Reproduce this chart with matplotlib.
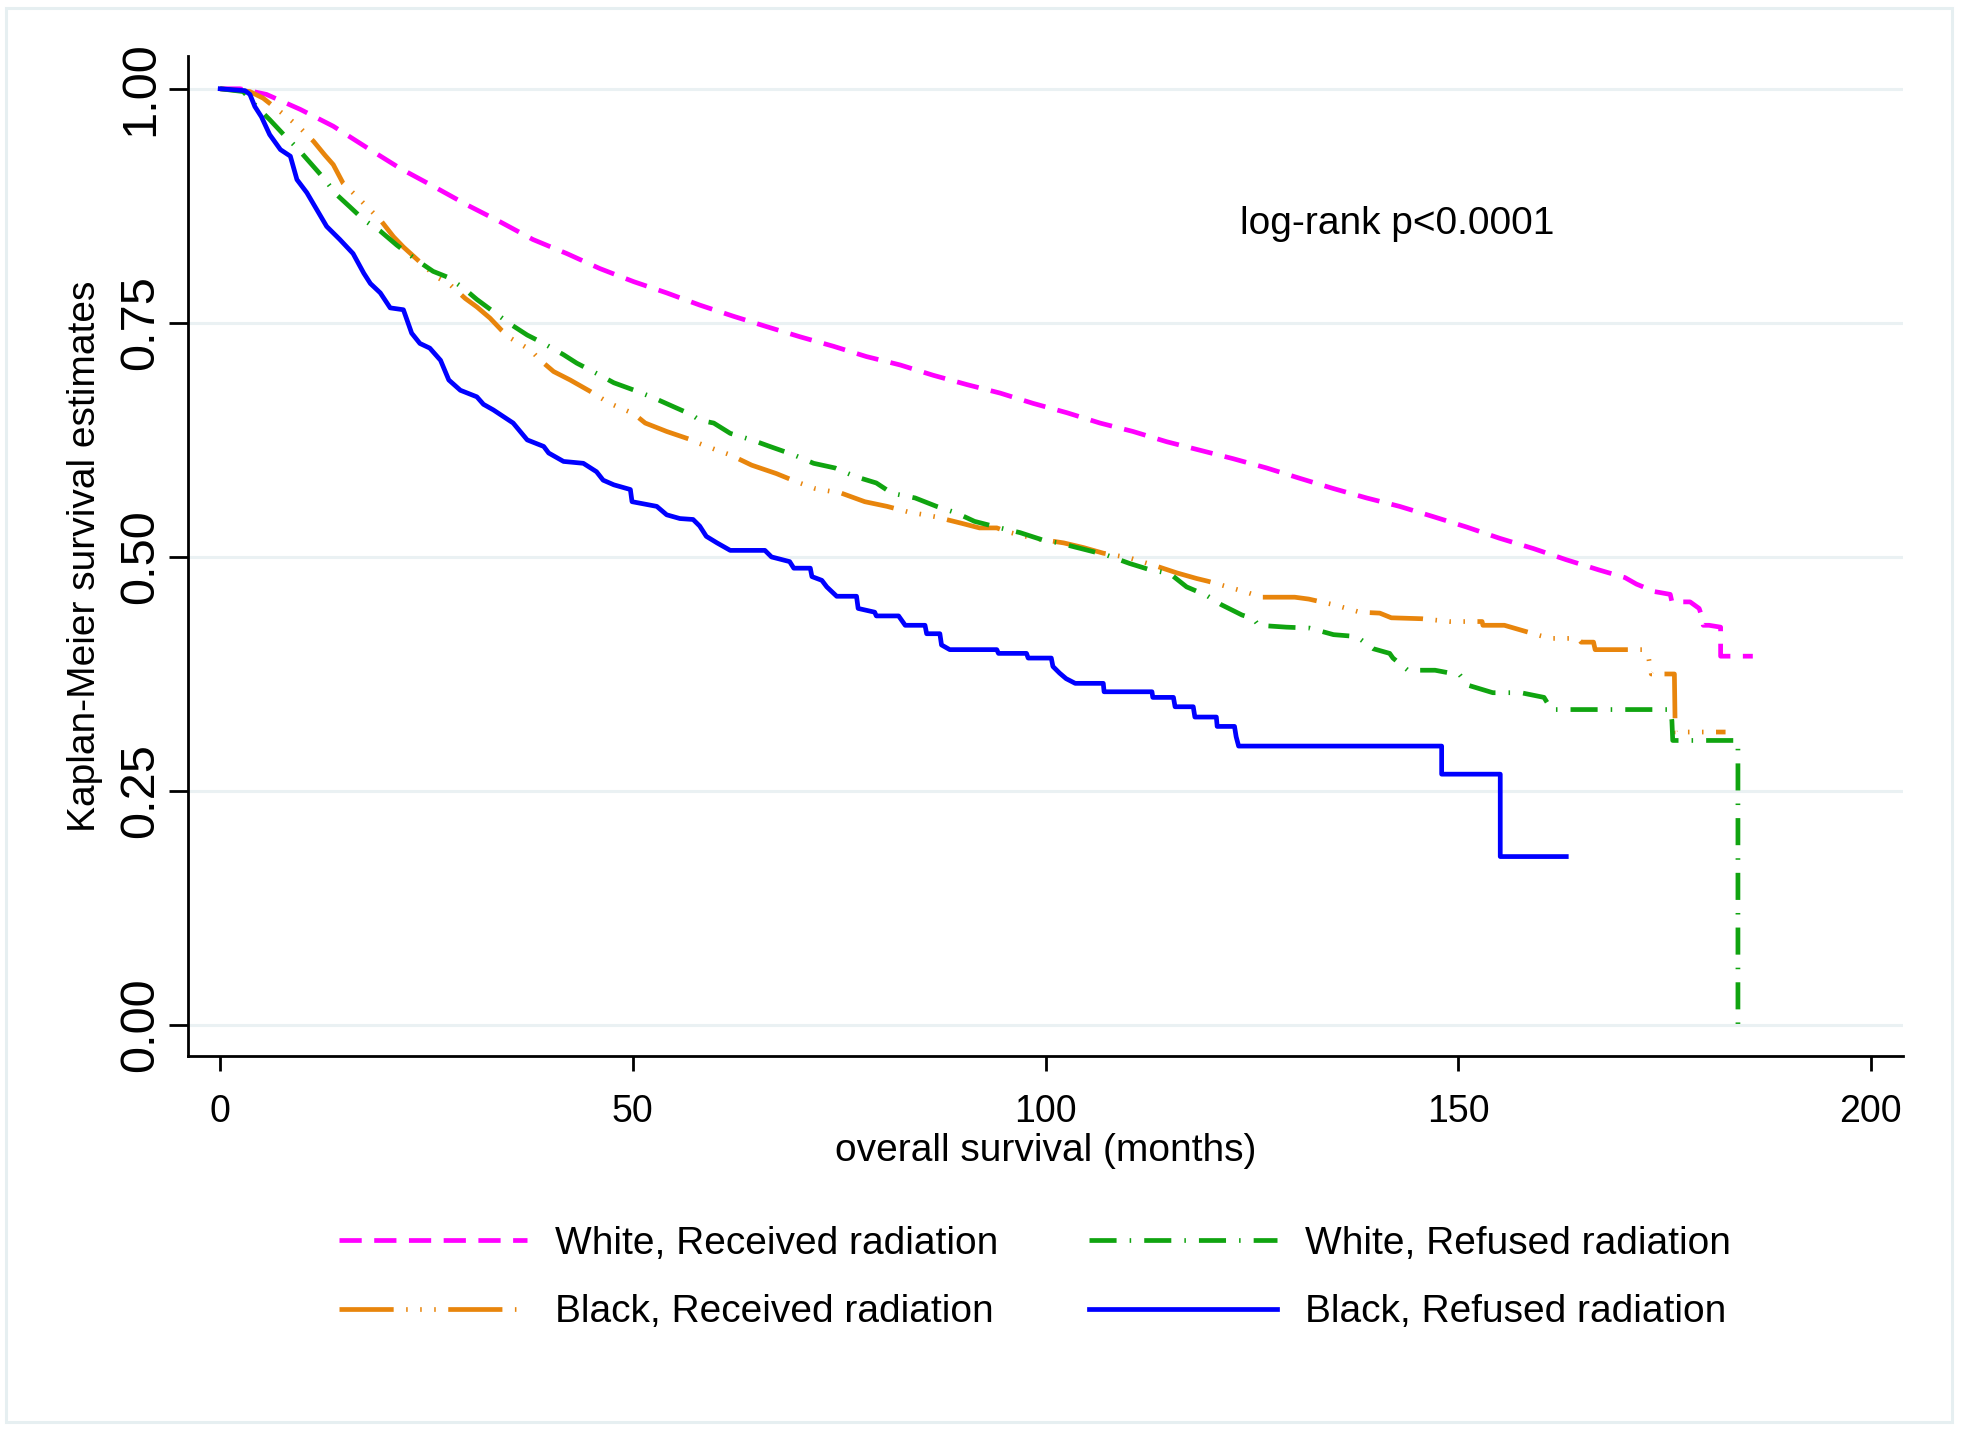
import matplotlib
matplotlib.use('Agg')
import matplotlib.pyplot as plt
from matplotlib.patches import Rectangle

plt.rcParams['font.family'] = ['Liberation Sans', 'DejaVu Sans']
plt.rcParams['lines.scale_dashes'] = False

# ---- data (months, survival) ----
labels = ['White, Received radiation', 'Black, Received radiation',
          'White, Refused radiation', 'Black, Refused radiation']

wr_t = [0, 2.4, 5.6, 9.7, 13.7, 17.8, 21.8, 25.8, 29.9, 33.9, 37.9, 42.0, 46.0, 50.1, 54.1,
        58.1, 62.2, 66.2, 70.3, 74.3, 78.3, 82.4, 86.4, 90.5, 94.5, 98.5, 102.6, 106.6, 110.6,
        114.7, 118.7, 122.7, 126.8, 130.8, 134.9, 138.9, 142.9, 147.0, 151.0, 155.0, 159.1,
        163.1, 167.1, 170.2, 171.6, 173.8, 175.7, 175.9, 178.1, 179.2, 179.5, 179.7, 180.4,
        181.8, 181.8, 185.7]
wr_s = [1.0, 1.0, 0.994, 0.978, 0.960, 0.937, 0.915, 0.896, 0.876, 0.858, 0.839, 0.824, 0.808,
        0.794, 0.782, 0.769, 0.757, 0.746, 0.735, 0.725, 0.714, 0.705, 0.694, 0.684, 0.675,
        0.664, 0.654, 0.643, 0.634, 0.623, 0.614, 0.605, 0.595, 0.584, 0.573, 0.563, 0.554,
        0.543, 0.532, 0.520, 0.509, 0.497, 0.486, 0.478, 0.471, 0.463, 0.460, 0.452, 0.452,
        0.445, 0.437, 0.427, 0.427, 0.425, 0.394, 0.394]

br_t = [0, 3.6, 5.2, 7.5, 8.5, 9.7, 11.3, 12.7, 13.7, 14.9, 16.2, 17.8, 19.4, 21.0, 22.2, 24.2,
        26.2, 27.7, 29.7, 31.1, 32.7, 34.1, 35.3, 37.6, 38.8, 40.4, 42.4, 44.8, 47.2, 50.1, 51.5,
        54.1, 57.1, 58.1, 60.2, 61.8, 64.4, 67.4, 69.9, 72.1, 75.3, 78.1, 80.8, 83.4, 86.6, 89.8,
        92.0, 94.1, 95.3, 98.5, 102.2, 104.6, 107.0, 110.2, 113.5, 115.9, 118.3, 119.7, 121.3,
        124.1, 126.2, 130.2, 131.9, 134.9, 136.5, 138.1, 140.5, 141.9, 145.6, 149.0, 152.9,
        153.0, 155.6, 159.9, 161.3, 164.5, 164.9, 166.4, 166.6, 172.4, 173.1, 173.4, 176.2,
        176.3, 182.4]
br_s = [1.0, 0.997, 0.990, 0.974, 0.967, 0.958, 0.944, 0.929, 0.919, 0.899, 0.888, 0.874, 0.860,
        0.842, 0.831, 0.815, 0.799, 0.792, 0.776, 0.767, 0.755, 0.742, 0.733, 0.721, 0.710,
        0.698, 0.689, 0.677, 0.664, 0.653, 0.643, 0.634, 0.625, 0.621, 0.614, 0.609, 0.598,
        0.589, 0.580, 0.573, 0.568, 0.559, 0.554, 0.548, 0.543, 0.536, 0.531, 0.531, 0.527,
        0.520, 0.515, 0.510, 0.504, 0.499, 0.490, 0.483, 0.477, 0.474, 0.470, 0.463, 0.457,
        0.457, 0.455, 0.449, 0.445, 0.441, 0.440, 0.435, 0.434, 0.431, 0.431, 0.427, 0.427,
        0.416, 0.413, 0.413, 0.409, 0.409, 0.401, 0.401, 0.391, 0.375, 0.375, 0.313, 0.313]

wf_t = [0, 2.8, 4.4, 6.0, 7.7, 9.3, 11.3, 12.5, 14.1, 15.7, 17.4, 19.4, 21.4, 23.8, 25.8, 27.5,
        29.5, 31.1, 33.1, 35.1, 37.2, 39.2, 41.6, 43.2, 45.6, 47.7, 50.5, 52.5, 55.3, 57.1, 58.1,
        59.8, 61.8, 64.4, 66.6, 69.5, 71.9, 74.5, 76.9, 79.5, 81.4, 84.2, 86.8, 89.2, 91.4, 94.5,
        96.9, 99.7, 101.6, 107.4, 110.2, 112.4, 115.1, 117.1, 119.5, 121.3, 123.8, 125.2, 125.8,
        129.2, 132.0, 134.9, 137.7, 139.7, 141.7, 142.1, 143.9, 147.2, 150.2, 151.2, 154.2,
        157.6, 160.4, 161.3, 175.7, 175.9, 176.0, 183.9, 183.9]
wf_s = [1.0, 0.997, 0.981, 0.967, 0.951, 0.937, 0.917, 0.905, 0.887, 0.874, 0.860, 0.848, 0.833,
        0.817, 0.805, 0.799, 0.787, 0.775, 0.762, 0.749, 0.737, 0.728, 0.716, 0.707, 0.696,
        0.686, 0.677, 0.670, 0.659, 0.652, 0.646, 0.643, 0.632, 0.625, 0.618, 0.609, 0.600,
        0.595, 0.586, 0.579, 0.568, 0.563, 0.554, 0.547, 0.538, 0.531, 0.526, 0.518, 0.515,
        0.502, 0.493, 0.487, 0.482, 0.468, 0.459, 0.449, 0.438, 0.434, 0.427, 0.425, 0.424,
        0.417, 0.415, 0.402, 0.397, 0.392, 0.379, 0.379, 0.374, 0.363, 0.355, 0.355, 0.350,
        0.337, 0.337, 0.325, 0.304, 0.304, 0.0]

bf_t = [0, 3.0, 3.6, 4.2, 5.0, 6.0, 7.3, 8.5, 9.3, 10.5, 11.7, 12.9, 14.5, 16.1, 17.4, 18.2,
        19.4, 20.6, 22.2, 23.2, 24.2, 25.4, 26.7, 27.7, 29.1, 31.1, 31.9, 33.1, 35.5, 37.2, 39.2,
        39.8, 41.6, 44.0, 45.6, 46.4, 47.7, 49.7, 49.9, 52.9, 54.1, 55.7, 57.3, 58.1, 58.9, 60.2,
        61.8, 66.0, 66.8, 69.0, 69.5, 71.5, 71.7, 72.9, 73.5, 74.7, 77.1, 77.3, 79.3, 79.5, 82.2,
        83.0, 85.4, 85.6, 87.2, 87.4, 88.4, 94.1, 94.3, 97.7, 97.9, 100.7, 100.9, 101.7, 102.5,
        103.6, 107.0, 107.1, 112.9, 113.0, 115.5, 115.7, 117.9, 118.1, 120.7, 120.8, 122.9,
        123.1, 123.4, 148.0, 148.0, 155.1, 155.1, 163.1]
bf_s = [1.0, 0.998, 0.994, 0.981, 0.970, 0.951, 0.935, 0.928, 0.903, 0.889, 0.871, 0.853, 0.839,
        0.824, 0.803, 0.792, 0.782, 0.766, 0.764, 0.739, 0.728, 0.723, 0.710, 0.689, 0.678,
        0.671, 0.663, 0.657, 0.643, 0.625, 0.618, 0.611, 0.602, 0.600, 0.591, 0.582, 0.577,
        0.572, 0.559, 0.554, 0.545, 0.541, 0.540, 0.533, 0.522, 0.515, 0.507, 0.507, 0.500,
        0.495, 0.488, 0.488, 0.479, 0.475, 0.468, 0.458, 0.458, 0.445, 0.441, 0.437, 0.437,
        0.427, 0.427, 0.418, 0.418, 0.406, 0.401, 0.401, 0.397, 0.397, 0.392, 0.392, 0.383,
        0.376, 0.370, 0.365, 0.365, 0.356, 0.356, 0.350, 0.350, 0.340, 0.340, 0.329, 0.329,
        0.319, 0.319, 0.308, 0.298, 0.298, 0.268, 0.268, 0.180, 0.180]

x_ticks = [0, 50, 100, 150, 200]
y_ticks = [0, 0.25, 0.5, 0.75, 1.0]
y_ticklabels = ['0.00', '0.25', '0.50', '0.75', '1.00']

# ---- figure ----
fig = plt.figure(figsize=(19.61, 14.30), dpi=100)
fig.patches.append(Rectangle((6 / 1961, 8 / 1430), 1946 / 1961, 1414 / 1430,
                             transform=fig.transFigure, fill=False,
                             edgecolor='#e6eff1', linewidth=2.2))

ax = fig.add_axes([188 / 1961, 1 - 1056 / 1430, 1715 / 1961, 1000 / 1430])

lw = 3.4
l1, = ax.plot(wr_t, wr_s, color='#ff00ff', lw=lw, dashes=(16, 9))
l2, = ax.plot(br_t, br_s, color='#e8850c', lw=lw,
              dashes=(39, 9, 1.1, 9, 1.1, 9, 1.1, 9))
l3, = ax.plot(wf_t, wf_s, color='#10a410', lw=lw, dashes=(19.5, 9.4, 1.1, 9.4))
l4, = ax.plot(bf_t, bf_s, color='#0000ff', lw=lw)

ax.set_xlim(-3.9, 203.9)
ax.set_ylim(-0.033, 1.035)

ax.set_xticks(x_ticks)
ax.set_yticks(y_ticks)
ax.set_yticklabels(y_ticklabels, rotation=90, va='center')
ax.tick_params(axis='x', labelsize=27, length=11, width=2, pad=16)
ax.tick_params(axis='y', labelsize=35, length=14, width=2, pad=4)

ax.grid(axis='y', color='#eaf1f3', lw=2.2)
ax.set_axisbelow(True)
for side in ['top', 'right']:
    ax.spines[side].set_visible(False)
for side in ['left', 'bottom']:
    ax.spines[side].set_linewidth(2)

ax.set_xlabel('overall survival (months)', fontsize=28, va='center')
ax.xaxis.set_label_coords(0.5, -0.095)
ax.set_ylabel('Kaplan-Meier survival estimates', fontsize=28, va='center', ha='center')
ax.yaxis.set_label_coords(-0.060, 0.5)

ax.text(142.6, 0.856, 'log-rank p<0.0001', fontsize=28, ha='center', va='center')

fig.legend([l1, l2, l3, l4], labels, ncol=2, frameon=False, fontsize=28,
           loc='center', bbox_to_anchor=(1035 / 1961, 1 - 1278 / 1430),
           handlelength=4.83, handletextpad=0.72, columnspacing=2.34,
           labelspacing=0.84, borderpad=0)

fig.savefig('out.png', dpi=100)
